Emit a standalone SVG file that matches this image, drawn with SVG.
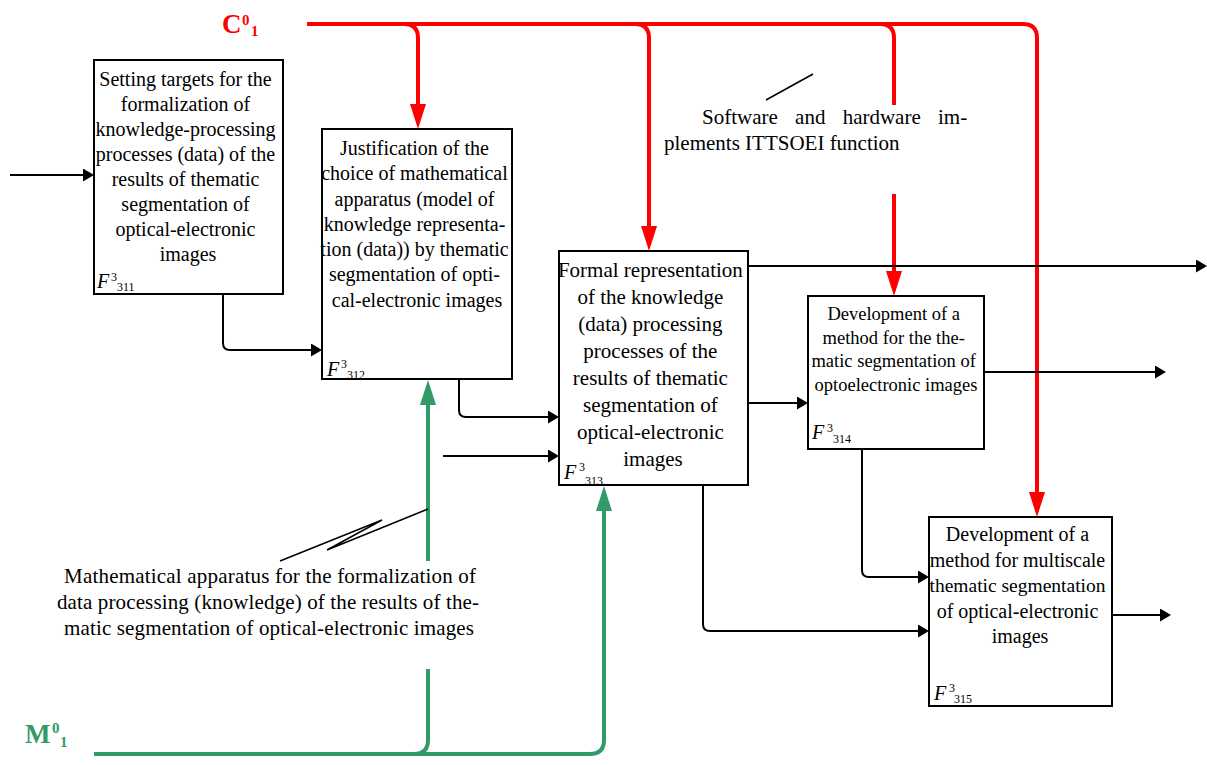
<svg xmlns="http://www.w3.org/2000/svg" width="1207" height="765" viewBox="0 0 1207 765">
  <style>
    .box { fill: #fff; stroke: #000; stroke-width: 2; }
    .t { font-family: "Liberation Serif", "Times New Roman", serif; fill: #000; text-anchor: middle; }
    .t20 { font-size: 20px; }
    .t21 { font-size: 21px; }
    .t18 { font-size: 18.5px; }
    .lbl { font-family: "Liberation Serif", "Times New Roman", serif; font-size: 21px; fill: #000; }
    .fi { font-family: "Liberation Serif", "Times New Roman", serif; font-style: italic; font-size: 20px; }
    .fs { font-family: "Liberation Serif", "Times New Roman", serif; font-size: 12px; }
    .blk { fill: none; stroke: #000; stroke-width: 2; marker-end: url(#ah); }
    .red { fill: none; stroke: #ff0000; stroke-width: 4; }
    .grn { fill: none; stroke: #339966; stroke-width: 4; }
    .lead { fill: none; stroke: #000; stroke-width: 1.5; }
    .big { font-family: "Liberation Serif", "Times New Roman", serif; font-weight: bold; }
  </style>
  <defs>
    <marker id="ah" viewBox="0 0 11 13" refX="8" refY="6.5" markerWidth="11" markerHeight="13" orient="auto" markerUnits="userSpaceOnUse">
      <path d="M0,0 L11,6.5 L0,13 z" fill="#000"/>
    </marker>
    <marker id="ahr" viewBox="0 0 25 16" refX="17" refY="8" markerWidth="25" markerHeight="16" orient="auto" markerUnits="userSpaceOnUse">
      <path d="M0,0 L25,8 L0,16 z" fill="#ff0000"/>
    </marker>
    <marker id="ahg" viewBox="0 0 25 16" refX="17" refY="8" markerWidth="25" markerHeight="16" orient="auto" markerUnits="userSpaceOnUse">
      <path d="M0,0 L25,8 L0,16 z" fill="#339966"/>
    </marker>
  </defs>

  <rect width="1207" height="765" fill="#fff"/>

  <!-- connectors -->
  <g id="connectors">
    <!-- control lines C -->
    <path class="red" d="M307 24 H1023 Q1037 24 1037 38 V509" marker-end="url(#ahr)"/>
    <path class="red" d="M404 24 Q418 24 418 38 V121" marker-end="url(#ahr)"/>
    <path class="red" d="M635 24 Q649 24 649 38 V243" marker-end="url(#ahr)"/>
    <path class="red" d="M880 24 Q894 24 894 38 V105"/>
    <path class="red" d="M894 194 V288" marker-end="url(#ahr)"/>

    <!-- mechanism lines M -->
    <path class="grn" d="M94 754 H590 Q604 754 604 740 V494" marker-end="url(#ahg)"/>
    <path class="grn" d="M414 754 Q428 754 428 740 V669"/>
    <path class="grn" d="M428 561 V388" marker-end="url(#ahg)"/>

    <!-- data flows -->
    <path class="blk" d="M10 175 H91"/>
    <path class="blk" d="M223 294 V343 Q223 350 230 350 H319"/>
    <path class="blk" d="M459 379 V410 Q459 417 466 417 H556"/>
    <path class="blk" d="M443 456 H556"/>
    <path class="blk" d="M748 266 H1204"/>
    <path class="blk" d="M748 403 H805"/>
    <path class="blk" d="M984 372 H1163"/>
    <path class="blk" d="M862 449 V570 Q862 577 869 577 H926"/>
    <path class="blk" d="M703 485 V624 Q703 631 710 631 H926"/>
    <path class="blk" d="M1112 615 H1168"/>

    <!-- label leaders -->
    <path class="lead" d="M766 100 L813 74"/>
    <path class="lead" d="M428 509 L327 550 L382 520 L280 561"/>
  </g>

  <!-- arrow group labels -->
  <g id="label-c">
    <text class="big" x="222" y="33" font-size="27" fill="#ff0000">C</text>
    <text class="big" x="242" y="25" font-size="15" fill="#ff0000">0</text>
    <text class="big" x="251" y="36" font-size="15" fill="#ff0000">1</text>
  </g>
  <g id="label-m">
    <text class="big" x="25" y="743" font-size="27" fill="#339966">M</text>
    <text class="big" x="52" y="733" font-size="15" fill="#339966">0</text>
    <text class="big" x="60" y="747" font-size="15" fill="#339966">1</text>
  </g>
  <g id="label-software">
    <text class="lbl" x="702" y="124" word-spacing="12">Software and hardware im-</text>
    <text class="lbl" x="664" y="150">plements ITTSOEI function</text>
  </g>
  <g id="label-math">
    <text class="lbl" x="64" y="583" textLength="412" lengthAdjust="spacing">Mathematical apparatus for the formalization of</text>
    <text class="lbl" x="57" y="609" textLength="422" lengthAdjust="spacing">data processing (knowledge) of the results of the-</text>
    <text class="lbl" x="64" y="635" textLength="410" lengthAdjust="spacing">matic segmentation of optical-electronic images</text>
  </g>

  <!-- F311 -->
  <g id="node-f311">
    <rect class="box" x="94" y="60" width="189" height="234"/>
    <text class="t t20" x="188">
      <tspan x="188" y="86">Setting targets for the</tspan>
      <tspan x="188" y="111">formalization of</tspan>
      <tspan x="188" y="136">knowledge-processing</tspan>
      <tspan x="188" y="161">processes (data) of the</tspan>
      <tspan x="188" y="186">results of thematic</tspan>
      <tspan x="188" y="211">segmentation of</tspan>
      <tspan x="188" y="236">optical-electronic</tspan>
      <tspan x="188" y="261">images</tspan>
    </text>
    <text class="fi" x="97" y="288">F</text>
    <text class="fs" x="111" y="281" font-size="11">3</text>
    <text class="fs" x="117" y="291">311</text>
  </g>

  <!-- F312 -->
  <g id="node-f312">
    <rect class="box" x="322" y="129" width="190" height="250"/>
    <text class="t t20">
      <tspan x="417" y="155">Justification of the</tspan>
      <tspan x="417" y="180">choice of mathematical</tspan>
      <tspan x="417" y="206">apparatus (model of</tspan>
      <tspan x="417" y="231">knowledge representa-</tspan>
      <tspan x="417" y="256">tion (data)) by thematic</tspan>
      <tspan x="417" y="281">segmentation of opti-</tspan>
      <tspan x="417" y="307">cal-electronic images</tspan>
    </text>
    <text class="fi" x="327" y="376">F</text>
    <text class="fs" x="341" y="368" font-size="11">3</text>
    <text class="fs" x="347" y="379">312</text>
  </g>

  <!-- F313 -->
  <g id="node-f313">
    <rect class="box" x="559" y="251" width="189" height="234"/>
    <text class="t t21">
      <tspan x="653" y="277">Formal representation</tspan>
      <tspan x="653" y="304">of the knowledge</tspan>
      <tspan x="653" y="331">(data) processing</tspan>
      <tspan x="653" y="358">processes of the</tspan>
      <tspan x="653" y="385">results of thematic</tspan>
      <tspan x="653" y="412">segmentation of</tspan>
      <tspan x="653" y="439">optical-electronic</tspan>
      <tspan x="653" y="466">images</tspan>
    </text>
    <text class="fi" x="564" y="479">F</text>
    <text class="fs" x="579" y="471" font-size="11">3</text>
    <text class="fs" x="585" y="485">313</text>
  </g>

  <!-- F314 -->
  <g id="node-f314">
    <rect class="box" x="808" y="296" width="176" height="153"/>
    <text class="t t18">
      <tspan x="896" y="320">Development of a</tspan>
      <tspan x="896" y="344">method for the the-</tspan>
      <tspan x="896" y="367">matic segmentation of</tspan>
      <tspan x="896" y="391">optoelectronic images</tspan>
    </text>
    <text class="fi" x="812" y="439">F</text>
    <text class="fs" x="827" y="432" font-size="11">3</text>
    <text class="fs" x="833" y="443">314</text>
  </g>

  <!-- F315 -->
  <g id="node-f315">
    <rect class="box" x="929" y="517" width="183" height="189"/>
    <text class="t t20">
      <tspan x="1020" y="541">Development of a</tspan>
      <tspan x="1020" y="567">method for multiscale</tspan>
      <tspan x="1020" y="592" font-size="19.5">thematic segmentation</tspan>
      <tspan x="1020" y="618">of optical-electronic</tspan>
      <tspan x="1020" y="643">images</tspan>
    </text>
    <text class="fi" x="934" y="700">F</text>
    <text class="fs" x="949" y="692" font-size="11">3</text>
    <text class="fs" x="954" y="703">315</text>
  </g>
</svg>
